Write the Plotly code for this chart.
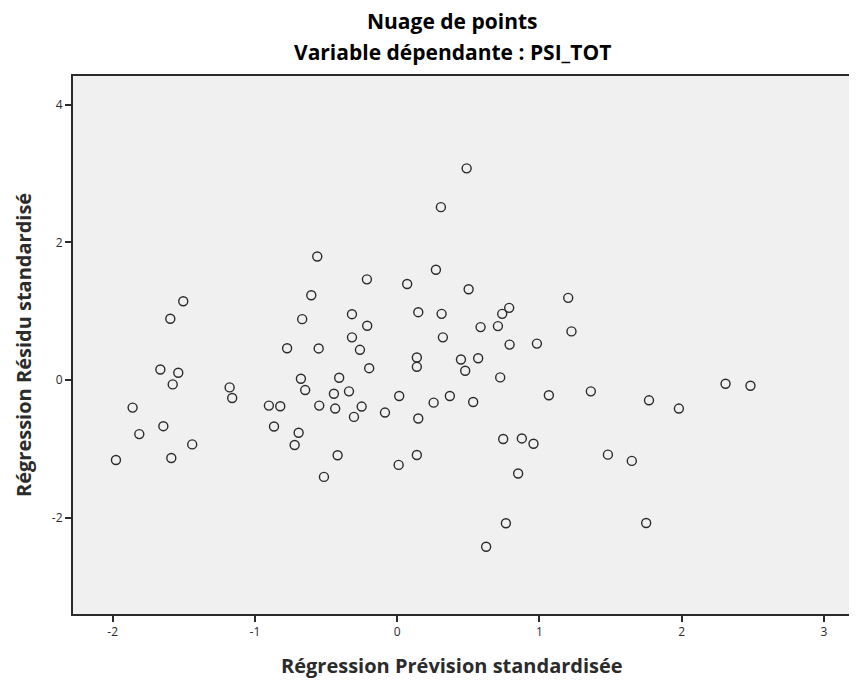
"""Residual scatter plot: standardized prediction vs standardized residual."""
import plotly.graph_objects as go

# Regression standardized predicted value (x) and standardized residual (y)
prevision = [
    -1.977, -1.860, -1.813, -1.665, -1.644, -1.595, -1.588, -1.578, -1.539, -1.504,
    -1.441, -1.178, -1.160, -0.902, -0.866, -0.822, -0.774, -0.721, -0.693, -0.677,
    -0.668, -0.647, -0.604, -0.562, -0.552, -0.548, -0.515, -0.445, -0.436, -0.419,
    -0.408, -0.339, -0.318, -0.318, -0.304, -0.262, -0.250, -0.213, -0.211, -0.197,
    -0.086, 0.010, 0.014, 0.070, 0.138, 0.138, 0.138, 0.148, 0.148, 0.256,
    0.272, 0.307, 0.312, 0.321, 0.370, 0.448, 0.478, 0.488, 0.502, 0.534,
    0.569, 0.586, 0.625, 0.708, 0.724, 0.738, 0.745, 0.764, 0.787, 0.790,
    0.850, 0.876, 0.958, 0.982, 1.066, 1.202, 1.225, 1.361, 1.481, 1.649,
    1.750, 1.770, 1.980, 2.308, 2.483,
]
residu = [
    -1.161, -0.400, -0.785, 0.154, -0.670, 0.891, -1.132, -0.063, 0.106, 1.146,
    -0.935, -0.106, -0.260, -0.371, -0.675, -0.381, 0.462, -0.944, -0.766, 0.019,
    0.886, -0.145, 1.233, 1.796, 0.460, -0.371, -1.407, -0.198, -0.414, -1.093,
    0.034, -0.164, 0.958, 0.621, -0.535, 0.440, -0.385, 1.464, 0.790, 0.173,
    -0.472, -1.233, -0.231, 1.397, 0.328, 0.193, -1.089, 0.987, -0.559, -0.328,
    1.604, 2.514, 0.963, 0.621, -0.231, 0.299, 0.135, 3.078, 1.320, -0.318,
    0.318, 0.770, -2.423, 0.785, 0.039, 0.963, -0.857, -2.081, 1.050, 0.516,
    -1.358, -0.848, -0.925, 0.530, -0.221, 1.195, 0.708, -0.164, -1.084, -1.175,
    -2.077, -0.294, -0.414, -0.053, -0.082,
]

x_ticks = [-2, -1, 0, 1, 2, 3]
y_ticks = [-2, 0, 2, 4]

font = "Open Sans"
dark = "#2b2b2b"

# page body has an 8px margin, so the figure is a bit smaller than the window
W, H = 849, 676
L, T, B = 65, 68, 70
center_x = (444 - L) / (W - L)  # titles sit slightly left of plot centre

fig = go.Figure(
    go.Scatter(
        x=prevision,
        y=residu,
        mode="markers",
        marker=dict(
            symbol="circle-open",
            size=9,
            color=dark,
            line=dict(width=1.4, color=dark),
        ),
        hoverinfo="x+y",
    )
)

fig.update_layout(
    width=W,
    height=H,
    margin=dict(l=L, r=0, t=T, b=B),
    paper_bgcolor="white",
    plot_bgcolor="#f0f0f0",
    showlegend=False,
    font=dict(family=font, color=dark),
    annotations=[
        dict(
            text="<b>Nuage de points</b>",
            xref="paper", yref="paper", x=center_x, y=1,
            yshift=55, xanchor="center", yanchor="middle",
            showarrow=False, font=dict(size=21, color="black"),
        ),
        dict(
            text="<b>Variable dépendante : PSI_TOT</b>",
            xref="paper", yref="paper", x=center_x, y=1,
            yshift=24, xanchor="center", yanchor="middle",
            showarrow=False, font=dict(size=21, color="black"),
        ),
        dict(
            text="<b>Régression Prévision standardisée</b>",
            xref="paper", yref="paper", x=center_x, y=0,
            yshift=-51, xanchor="center", yanchor="middle",
            showarrow=False, font=dict(size=20, color=dark),
        ),
        dict(
            text="<b>Régression Résidu standardisé</b>",
            xref="paper", yref="paper", x=0, y=0.5,
            xshift=-(L - 15), xanchor="center", yanchor="middle",
            textangle=-90,
            showarrow=False, font=dict(size=20, color=dark),
        ),
    ],
)

fig.update_xaxes(
    range=[-2.279, 3.232],
    tickvals=x_ticks,
    ticktext=[str(v) for v in x_ticks],
    ticks="outside",
    ticklen=6,
    tickwidth=2,
    tickcolor=dark,
    tickfont=dict(size=12, color=dark),
    showgrid=False,
    zeroline=False,
    showline=True,
    linecolor=dark,
    linewidth=2,
    mirror=True,
)

fig.update_yaxes(
    range=[-3.40, 4.42],
    tickvals=y_ticks,
    ticktext=[str(v) for v in y_ticks],
    ticks="outside",
    ticklen=6,
    tickwidth=2,
    tickcolor=dark,
    tickfont=dict(size=12, color=dark),
    showgrid=False,
    zeroline=False,
    showline=True,
    linecolor=dark,
    linewidth=2,
)

fig.write_html("out.html")
